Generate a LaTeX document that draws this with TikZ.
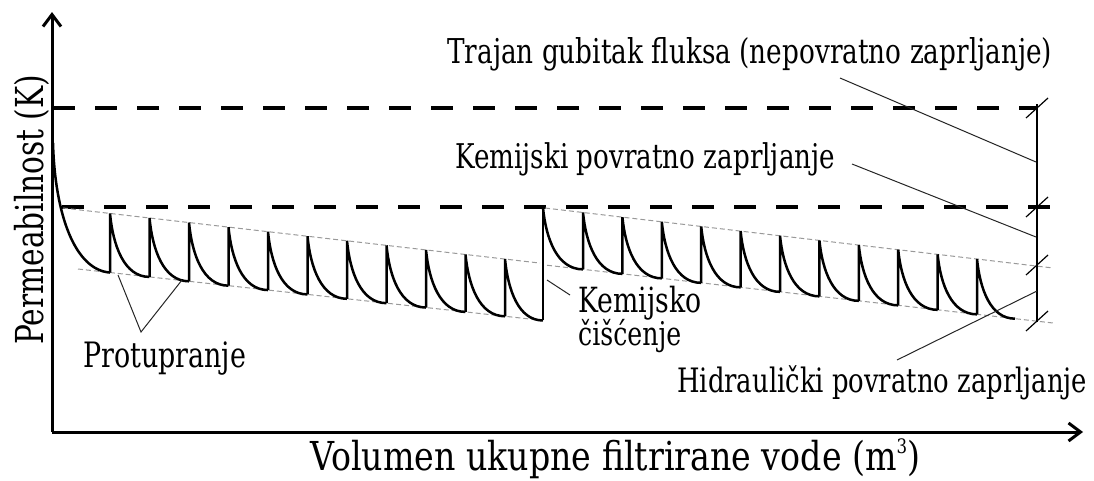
\documentclass[tikz,border=0pt]{standalone}
\usepackage{fontspec}
\setmainfont{DejaVu Serif}
\usetikzlibrary{arrows.meta}
\newcommand\fw[3]{\resizebox{#1pt}{!}{\scalebox{1}[#2]{#3}}}
\begin{document}
\begin{tikzpicture}[x=1pt,y=-1pt,
  declare function={ua(\x)=208+(\x-63)*0.1155; la(\x)=269+(\x-78)*0.1107;
                    ub(\x)=208+(\x-545)*0.1181; lb(\x)=265+(\x-545)*0.1142;},
  axis/.style={line width=3pt,-{Straight Barb[length=12pt,width=18pt,line width=3pt]}},
  bigdash/.style={line width=3.2pt,dash pattern=on 22pt off 20pt},
  guide/.style={line width=1pt,gray!80,dash pattern=on 5pt off 3pt},
  saw/.style={line width=2.5pt,black},
  leader/.style={line width=1pt,black!85},
  tick/.style={line width=1.2pt},
  lbl/.style={inner sep=0pt,anchor=base west}]
\useasboundingbox (0,0) rectangle (1094,480);
% axes
\coordinate (O) at (52,432);
\coordinate (Ytop) at (52,12);
\coordinate (Xend) at (1083,432);
\draw[axis] (O) -- (Ytop);
\draw[axis] (O) -- (Xend);
% thick dashed levels
\draw[bigdash] (53,108) -- (1037,108);
\draw[bigdash] (62,207) -- (1055,207);
% guide lines
\draw[guide] (63,208) -- (540,{ua(540)});
\draw[guide] (78,269) -- (540,{la(540)});
\draw[guide] (545,208) -- (1053,268);
\draw[guide] (547,{lb(547)}) -- (1053,323);
% first sawtooth segment
\draw[saw] (53,143) .. controls (55,215) and (75,270) .. (110,{la(110)});
\foreach \k in {0,...,10}{
  \pgfmathsetmacro\xa{110+39.5*\k}
  \pgfmathsetmacro\xb{min(110+39.5*(\k+1),543)}
  \pgfmathsetmacro\ya{ua(\xa)}
  \pgfmathsetmacro\yb{la(\xb)}
  \pgfmathsetmacro\h{\yb-\ya}
  \pgfmathsetmacro\w{\xb-\xa}
  \draw[saw] (\xa,{la(\xa)}) -- (\xa,\ya)
    .. controls ({\xa+3},{\ya+0.5*\h}) and ({\xa+0.35*\w},\yb) .. (\xb,\yb);
}
% chemical cleaning jump
\draw[saw] (543,{la(543)}) -- (543,{ub(543)});
\draw[saw] (543,{ub(543)}) .. controls (546,{ub(543)+0.5*(lb(583)-ub(543))}) and (557,{lb(583)}) .. (583,{lb(583)});
\foreach \k in {0,...,10}{
  \pgfmathsetmacro\xa{583+39.4*\k}
  \pgfmathsetmacro\xb{min(583+39.4*(\k+1),1015)}
  \pgfmathsetmacro\ya{ub(\xa)}
  \pgfmathsetmacro\yb{lb(\xb)}
  \pgfmathsetmacro\h{\yb-\ya}
  \pgfmathsetmacro\w{\xb-\xa}
  \draw[saw] (\xa,{lb(\xa)}) -- (\xa,\ya)
    .. controls ({\xa+3},{\ya+0.5*\h}) and ({\xa+0.35*\w},\yb) .. (\xb,\yb);
}
% measuring bar
\coordinate (Mtop) at (1037,104);
\coordinate (Mbot) at (1037,322);
\draw[line width=1.5pt] (Mtop) -- (Mbot);
\foreach \yy in {108,207,265,321}{
  \draw[tick] (1026,{\yy+10}) -- (1048,{\yy-10});
}
% labels
\node[lbl,rotate=90] (perm) at (43,345) {\fw{270}{1.3}{Permeabilnost (K)}};
\node[lbl] (vol) at (310,470) {\fw{610}{1.2}{Volumen ukupne filtrirane vode (m\raisebox{0.42em}{\tiny 3})}};
\node[lbl] (traj) at (447,63) {\fw{605}{1.3}{Trajan gubitak fluksa (nepovratno zaprljanje)}};
\node[lbl] (kemp) at (455,168) {\fw{380}{1.3}{Kemijski povratno zaprljanje}};
\node[lbl] (prot) at (83,367) {\fw{163}{1.3}{Protupranje}};
\node[lbl] (kemc) at (578,312) {\fw{123}{1.3}{Kemijsko}};
\node[lbl] (cisc) at (578,345) {\fw{103}{1.3}{čišćenje}};
\node[lbl] (hidr) at (677,392) {\fw{410}{1.3}{Hidraulički povratno zaprljanje}};
% leader lines
\coordinate (pA) at (141,332);
\coordinate (p1) at (118,275);
\coordinate (p2) at (182,280);
\draw[leader] (p1) -- (pA) -- (p2);
\coordinate (c1) at (547,280);
\coordinate (c2) at (570,295);
\draw[leader] (c1) -- (c2);
\coordinate (t1) at (840,78);
\coordinate (t2) at (1036,162);
\draw[leader] (t1) -- (t2);
\coordinate (k1) at (852,164);
\coordinate (k2) at (1036,237);
\draw[leader] (k1) -- (k2);
\coordinate (h1) at (897,360);
\coordinate (h2) at (1037,291);
\draw[leader] (h1) -- (h2);
\end{tikzpicture}
\end{document}
